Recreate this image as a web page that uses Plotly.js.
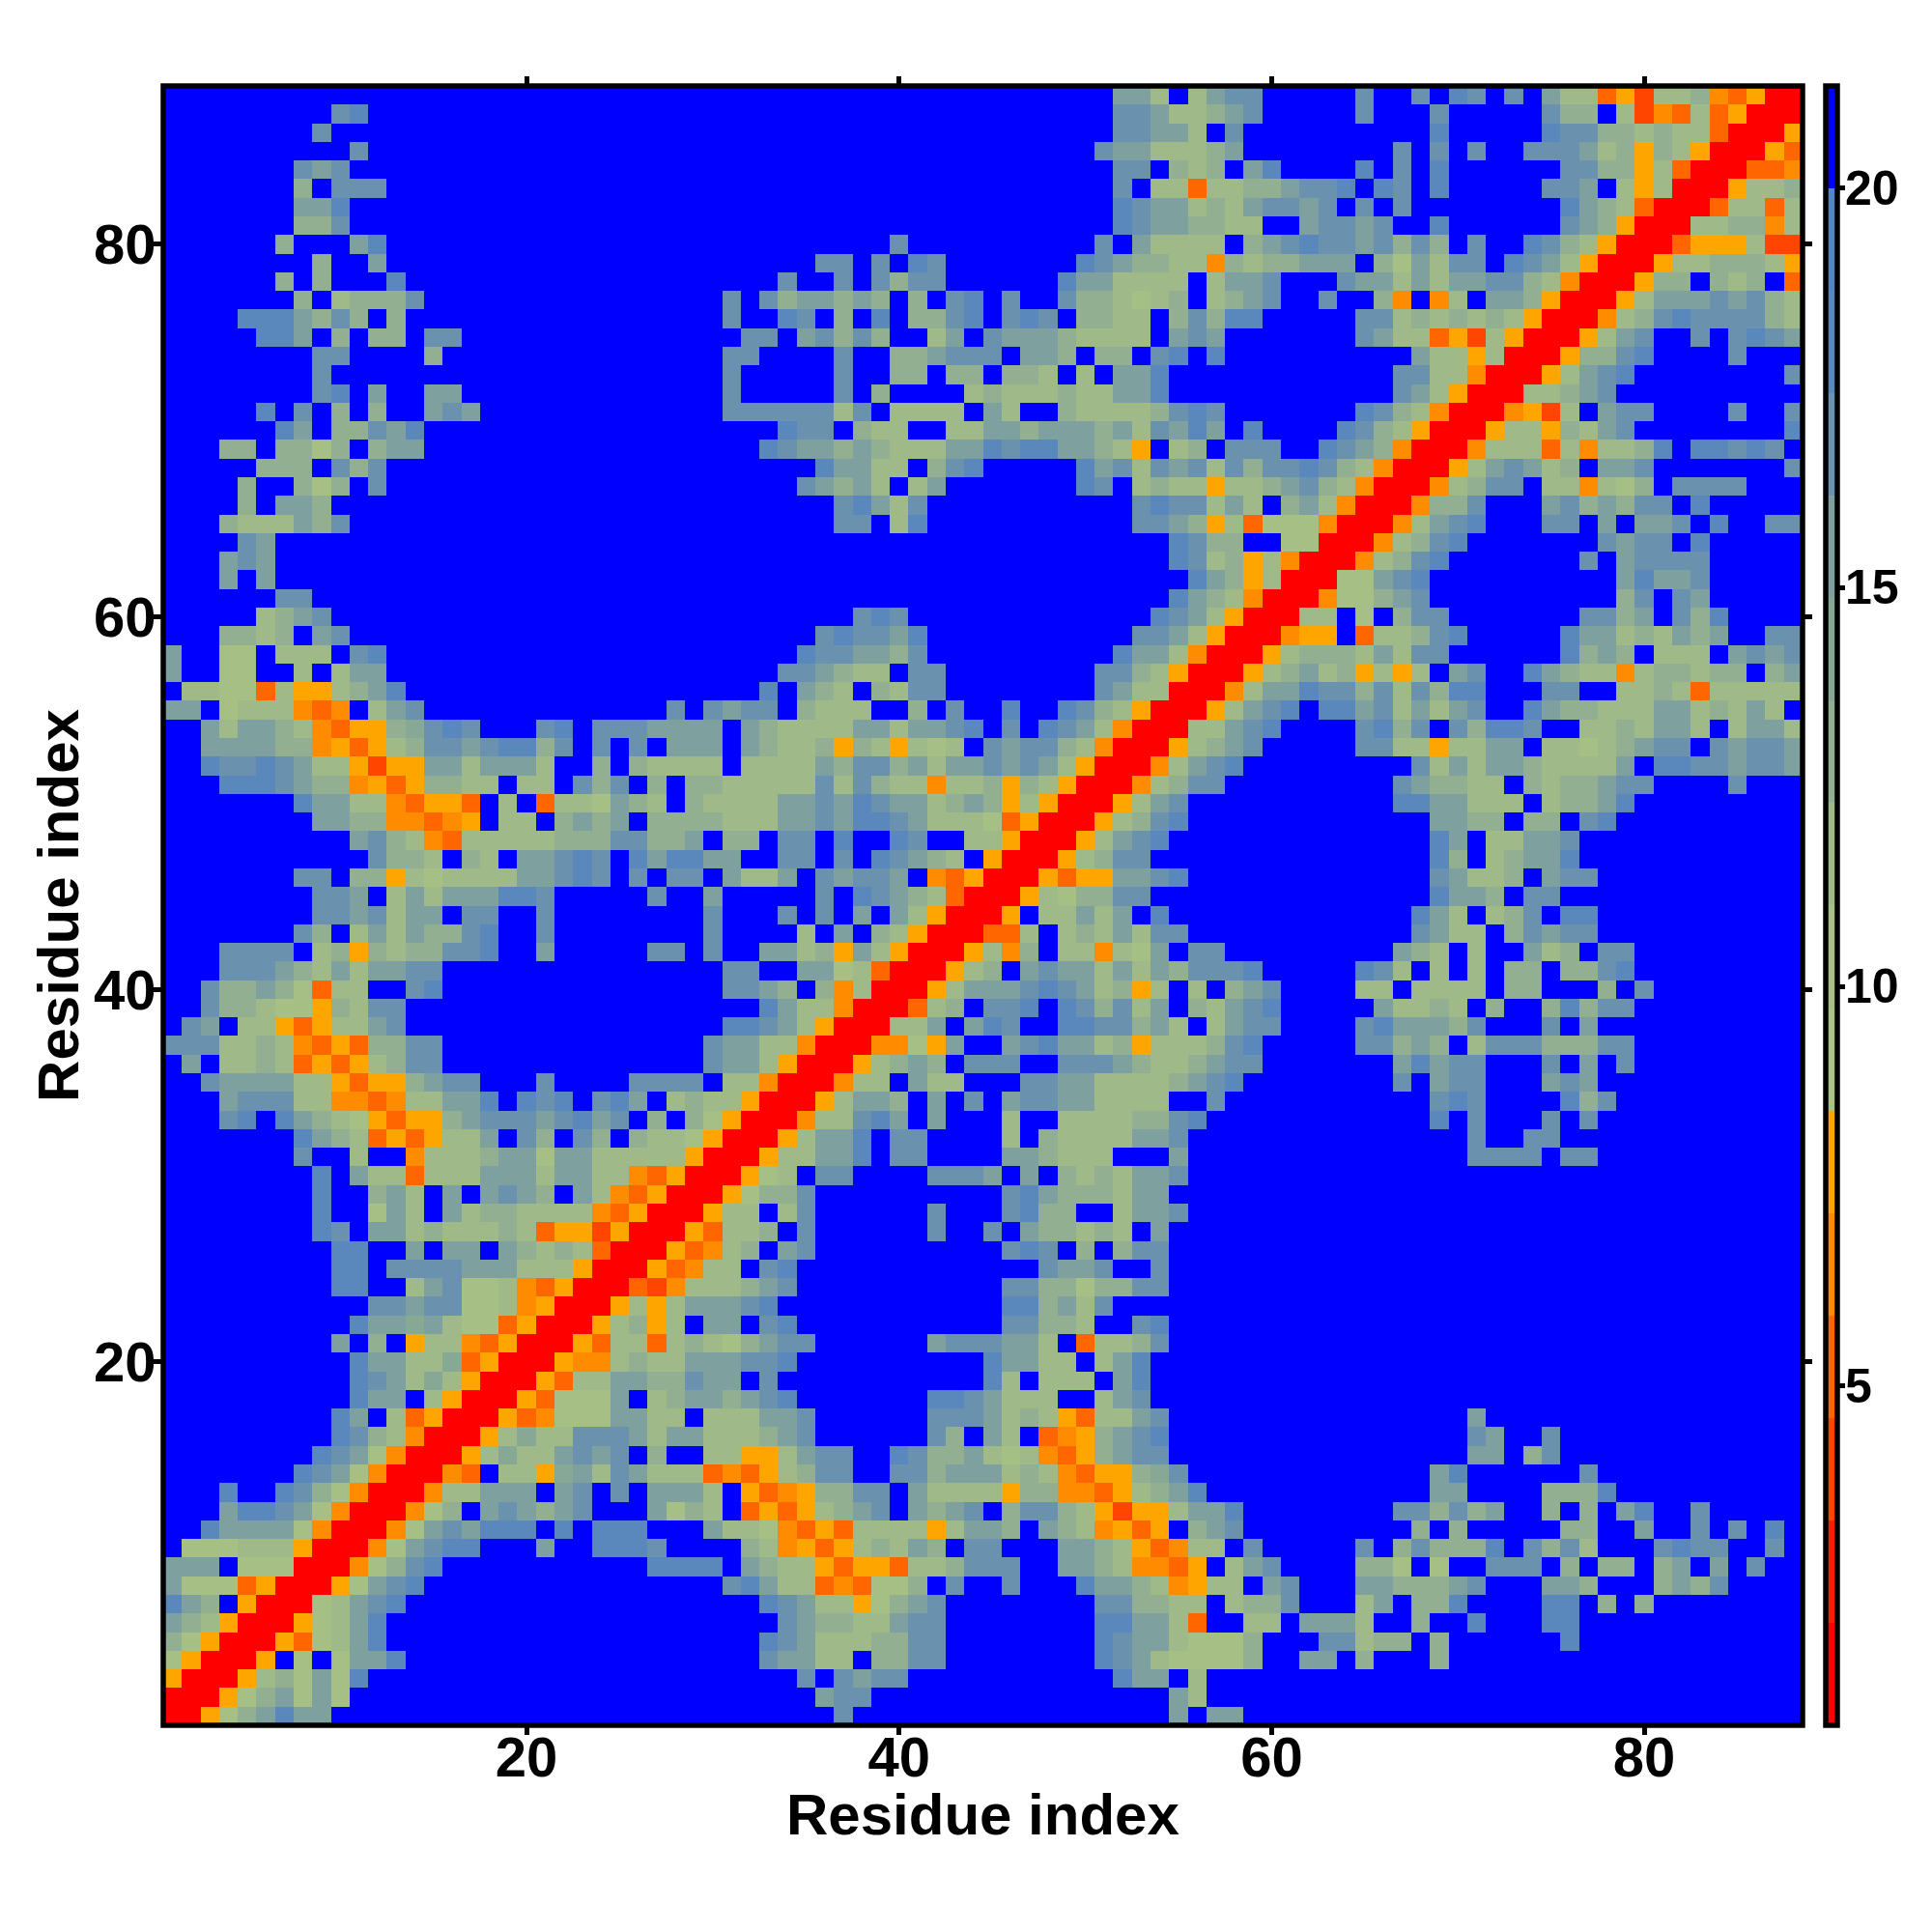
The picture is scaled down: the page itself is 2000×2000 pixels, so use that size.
<!DOCTYPE html>
<html>
<head>
<meta charset="utf-8">
<script src="https://cdn.plot.ly/plotly-3.0.1.min.js"></script>
<style>html,body{margin:0;padding:0;background:#fff}</style>
</head>
<body>
<div id="chart" style="width:2000px;height:2000px"></div>
<script>
// Distance bands (one band per hex digit, 0 = closest, f = farthest).
const bandMidValues = [1.4,2.7,3.95,5.2,6.5,7.8,9.05,10.35,11.65,12.9,14.2,15.5,16.75,18.05,19.35,20.65];
const bandColors = ['#FF0000','#F62000','#FF4500','#FF6600','#FF8C00','#FFA500','#A9C285','#A6BF84','#9FB989','#92B091','#88A896','#7EA09F','#6A92AE','#5B88BC','#5585C0','#0000FF'];
const zLow = 0.75, zHigh = 21.28;
const residueTicks = [20,40,60,80];
const barTicks = [5,10,15,20];
const axisLabel = 'Residue index';

// Lower-right triangle of the symmetric map. Groups of ten residues; omitted tail = farthest band.
// Rows 1-30, starting at residue 1
const rowsLow = [
"00579bdbbf ffffffffff ffffffffff ffffffcfff ffffffffff ffffbfbbff",
".00579b7b7 ffffffffff ffffffffff fffffbccff ffffffffff ffffb8ffff",
"..005897b7 dfffffffff ffffffffff ffffcfcbcc ffffffffff fdbbf8ffff",
"...005f7f7 bbdfffffff ffffffffff ffcbb88f99 ccffffffff dcb877779f fbbf9fff9f",
"....005378 bdffffffff ffffffffff ffdcb88899 ccffffffff dcbb87779f ffcc899f9f fffffdffff",
".....00578 bdffffffff ffffffffff fffcb9988b ccffffffff ddbb83ff88 fbbb8ff9ff dfffddffff",
"......0078 bcdfffffff ffffffffff ffdcb88579 bcffffffff cc9988f899 cfff8bf99d ffffddf9f9",
".......005 7bcdffffff ffffffffff cdb8834377 9fcffcfffd bb984588fb cfffbb999b cfffbb9fff 9b9cffff",
"........00 479cdfffff ffffffdddd fb98853553 889cccffbb 984435f8bc ffff997f7f fcccf9f99f 9bfbfcff",
".........0 047bcddfff bffdddcfff f984535898 b9fccfffbb 9853488fcf ffffcf9c99 9dfc9c8fff cdccffcf",
".......... 0047bcbddd fdfdddfffb 8874353888 858bb9fb98 4535f9bcff fffffff9f9 fffff99ffb ffcfcfdf",
".......... .00479fbcb 9bcfffb798 f353589bcf b9bcf9cc98 52558bbdff ffffffcc9c 9bff9f9fbd ffcfffff",
".......... ..00488bbb fbcfcfbbb8 f534599ccf b888859944 3589bdffff ffffffffbb ffff999dff",
".......... ...0043f88 5ab8cb8883 43589ccffc c9bbb89843 559acfffff ffffffffbd ffffffcfff",
".......... ....0058a8 8bcbcf9ff8 8558bccffd c99b878435 9bccffffff ffffffffff bbf9cfffff",
".......... .....0058a 88cccb8bb8 889bcfffff fc9fb8f345 9bcdffffff ffffffffff cbffcfffff",
".......... ......0053 4777bb88f8 88bbcfffff fcccb89853 88bcffffff ffffffffff bfffffffff",
".......... .......005 3777bf89bb 9bcdffffff fddcb888ff 8bcfffffff",
".......... ........00 5388bb99cb bfcfffffff ffffd8f888 fbdfffffff",
".......... .........0 05448988bb bccdffffff ffffdbb88f 8bdfffffff",
".......... .......... 0053883898 79bccfffff fbcccbb8f3 889cffffff",
".......... .......... .0058958fb bfcdffffff fffffcc998 ffcdffffff",
".......... .......... ..005858bb bcdfffffff fffffdd9b8 cfffffffff",
".......... .......... ...0032488 89bcffffff fffffcc997 99ccffffff",
".......... .......... ....005348 8fcdffffff fffffffcbb cffcffffff",
".......... .......... .....00534 89fbcfffff fffffcdcf9 f9ccffffff",
".......... .......... ......0053 889fcfffff fcffcfb998 98fbffffff",
".......... .......... .......005 88f8cfffff fcfffcd99f f8bbcfffff",
".......... .......... ........00 5799cfffff fffffcdb99 98bbffffff",
".......... .......... .........0 0578fccfff fcccbfbf98 98bbcfffff"
];
// Rows 31-60, starting at residue 31
const rowsMid = [
"00588bbdfc cffffbb988 8fffbfffff ffffffffff ccccfccfff",
".0058bbdfc cffff8f988 88bbcfffff ffffffffff cffccfffff",
"..00488cdb fbfff8ff88 8899cdffff ffffffffdf cfffcfcfff",
"...0058bb9 fbfcfbccbb 8888ffcfff ffffffffcd cffffd9cff",
"....00488f b88fffccbb 88889bcdff ffffffcfbc cfffbcbfff",
".....00589 b9fcccffcc cb9889bccf ffffffbdbc cfffcfbfcf",
"......0044 75bffbcdbb 8958889cdf ffffcc9b9f 8ccc999ccf",
".......008 8bfbdcffdd cc9b8f8bcc ffffcdbbb9 cfffcfbfff",
"........00 389fccdfdc 9c8bf98bcd fffffb8898 f9ff9d9ccf",
".........0 058bbbcdcb 8958f8f9bc ffff88f888 8f99fff9fc",
".......... 00589fbcbb 8b8b9cccdf ffffdc8f8f 8f99f99cdf",
".......... .005849f88 487bfccfff ffffffb98f 8ffb89fccf",
".......... ..00338f89 8b8ccfffff fffffffcb8 8f9cbccfff",
".......... ...005f88b 8bfdffffff fffffffdb8 f89cfddfff",
".......... ....005879 9ccfffffff ffffffffdb b9fccfffff",
".......... .....00535 5bbcdfffff ffffffffcb 889fbccfff",
".......... ......0058 9ccfffffff ffffffffd9 f89bbdffff",
".......... .......005 8bcdffffff ffffffffdb f88bbcffff",
".......... ........00 589cdfffff ffffffffbb 99f99fcdff",
".......... .........0 058bcfffff ffffffddbb 888f899bdf",
".......... .......... 00489ccfff ffffffcb99 88f9899bcc ffffcfff",
".......... .......... .0048bcdff fffffffc8b 8bb98888bf ddccbccb",
".......... .......... ..00589bcf ffffcc8858 8bbf88789b ccfcbccb",
".......... .......... ...0088bcd ffffcd9cfc 9ddcff8898 bb8f8bb8",
".......... .......... ....0058bc dfddbc8b8b cffdb99888 bb898b8f",
".......... .......... .....0048b bdcc9c8c9d dfffccff88 98388888",
".......... .......... ......0058 9b895858fb cffdb98848 99899f9b",
".......... .......... .......005 89998b8ccf fffffd9b9f 888fbcbc",
".......... .......... ........00 455f3889cd fffffdbb89 8b9bffcc",
".......... .......... .........0 088f7f9ccf ffffffcc9b fc9dffff"
];
// Rows 61-88, starting at residue 61
const rowsHigh = [
"004779bcff ffffffff9c fcbfffff",
".0077bcdff ffffffffbd bbcfffff",
"..00489cdf ffffffcfbc cccfffff",
"...00489cd fffffffcbc cfdfffff",
"....0048bc dfffccfbfb bcfdffcc",
".....00499 cfffbc9b9c cfdfffff",
"......0048 9ccf884879 fccccfff",
".......005 8bcb89fbbc fffffffc",
"........00 4888384889 dfddcdcf",
".........0 0588598bcf fffffffd",
".......... 004528fbcc ffffcffc",
".......... .00889bcff ffffffff",
".......... ..0058bcdf fffffffc",
".......... ...00599cd ffffcfff",
".......... ....0058bc ffcfcdcb",
".......... .....00489 cdcccc98",
".......... ......0058 bbbcbc98",
".......... .......005 99f989f3",
".......... ........00 58899985",
".......... .........0 03555822",
".......... .......... 00889948",
".......... .......... .0038838",
".......... .......... ..005889",
".......... .......... ...00334",
".......... .......... ....0053",
".......... .......... .....005",
".......... .......... ......00",
".......... .......... .......0"
];

const N = 88;
const residues = Array.from({length:N},(_,i)=>i+1);
function expand(rows, offset){
  return rows.map(r=>{
    const s = r.replace(/ /g,'');
    return ('.'.repeat(offset)+s).padEnd(N,'f').slice(0,N);
  });
}
const allRows = [...expand(rowsLow,0),...expand(rowsMid,30),...expand(rowsHigh,60)];
const z = residues.map(()=>new Array(N).fill(null));
allRows.forEach((row,j)=>{
  for(let i=j;i<N;i++){
    const ch = row[i]==='.'?'f':row[i];
    const v = bandMidValues[parseInt(ch,16)];
    z[j][i]=v; z[i][j]=v;
  }
});
const colorscale=[];
bandColors.forEach((c,k)=>{
  colorscale.push([k/bandColors.length,c]);
  colorscale.push([(k+1)/bandColors.length,c]);
});
const font='"Liberation Sans", Arial, sans-serif';
const titleFont={family:font,size:60,color:'#000',weight:700};
const axisBase={
  range:[0.5,88.5],tickmode:'array',tickvals:residueTicks,ticktext:residueTicks.map(String),
  ticks:'outside',ticklen:9,tickwidth:5,tickcolor:'#000',
  showline:false,mirror:'ticks',
  showgrid:false,zeroline:false,
  tickfont:{family:font,size:58,color:'#000',weight:700},
  automargin:false
};
const barLabelAnnotations = barTicks.map(v=>({
  text:String(v),xref:'paper',yref:'paper',x:1.0253,xanchor:'left',
  y:(v-zLow)/(zHigh-zLow),yanchor:'middle',showarrow:false,borderpad:0,
  font:{family:font,size:50,color:'#000',weight:700}
}));
Plotly.newPlot('chart',[{
  type:'heatmap',x:residues,y:residues,z:z,zmin:zLow,zmax:zHigh,
  colorscale:colorscale,zsmooth:false,hoverinfo:'skip',
  colorbar:{
    lenmode:'pixels',len:1697,y:0,yanchor:'bottom',thicknessmode:'pixels',thickness:12,
    x:1.0143,xanchor:'left',xpad:0,ypad:0,
    outlinecolor:'#000',outlinewidth:5.5,
    tickmode:'array',tickvals:barTicks,ticktext:barTicks.map(()=>''),
    ticks:'outside',ticklen:6,tickwidth:5,tickcolor:'#000',
    tickfont:{family:font,size:10,color:'#000'}
  }
}],{
  width:2000,height:2000,
  margin:{l:168.6,r:134,t:89,b:214,pad:0},
  paper_bgcolor:'#fff',plot_bgcolor:'#fff',
  font:{family:font,color:'#000'},
  shapes:[{type:'rect',xref:'paper',yref:'paper',x0:0,x1:1,y0:0,y1:1,line:{color:'#000',width:5.5},fillcolor:'rgba(0,0,0,0)',layer:'above'}],
  annotations:[
    {text:axisLabel,xref:'paper',yref:'paper',x:0.5,y:-0.0545,xanchor:'center',yanchor:'middle',showarrow:false,borderpad:0,font:titleFont},
    {text:axisLabel,xref:'paper',yref:'paper',x:-0.064,y:0.5,xanchor:'center',yanchor:'middle',textangle:-90,showarrow:false,borderpad:0,font:titleFont},
    ...barLabelAnnotations
  ],
  xaxis:Object.assign({},axisBase,{ticklabelstandoff:-27}),
  yaxis:Object.assign({},axisBase,{ticklabelstandoff:-14})
},{displayModeBar:false,staticPlot:true});
</script>
</body>
</html>
